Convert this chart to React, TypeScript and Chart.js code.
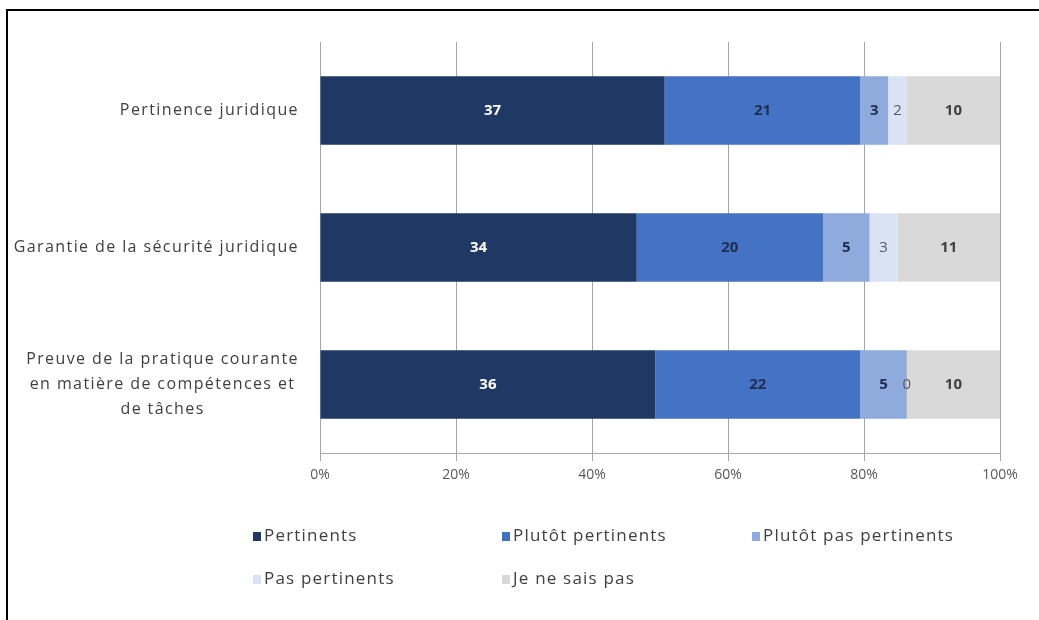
import React, { useEffect, useRef } from "react";
import { Chart, registerables } from "chart.js";

Chart.register(...registerables);

// ---- Data ----
const categories: (string | string[])[] = [
  "Pertinence juridique",
  "Garantie de la sécurité juridique",
  ["Preuve de la pratique courante", "en matière de compétences et", "de tâches"],
];
const seriesNames = [
  "Pertinents",
  "Plutôt pertinents",
  "Plutôt pas pertinents",
  "Pas pertinents",
  "Je ne sais pas",
];
const pertinents = [37, 34, 36];
const plutotPertinents = [21, 20, 22];
const plutotPasPertinents = [3, 5, 5];
const pasPertinents = [2, 3, 0];
const jeNeSaisPas = [10, 11, 10];
const xTickValues = [0, 20, 40, 60, 80, 100];

const seriesValues = [pertinents, plutotPertinents, plutotPasPertinents, pasPertinents, jeNeSaisPas];

// ---- Styles ----
const seriesColors = ["#203864", "#4472C4", "#8FAADC", "#DAE3F3", "#D9D9D9"];
const labelColors = ["#FFFFFF", "#1F2D50", "#1F2D50", "#595959", "#404040"];
const FONT = "'Open Sans', 'DejaVu Sans', sans-serif";
const W = 1039;
const H = 620;

export default function App() {
  const ref = useRef<HTMLCanvasElement>(null);

  useEffect(() => {
    document.body.style.margin = "0";
    const canvas = ref.current;
    if (!canvas) return;

    const totals = categories.map((_, i) => seriesValues.reduce((s, arr) => s + arr[i], 0));

    const datasets = seriesValues.map((vals, k) => ({
      label: seriesNames[k],
      data: vals.map((v, i) => (v / totals[i]) * 100),
      backgroundColor: seriesColors[k],
      borderWidth: 0,
      barPercentage: 0.5,
      categoryPercentage: 1.0,
    }));

    const framePlugin = {
      id: "frame",
      beforeDraw(chart: any) {
        const ctx = chart.ctx;
        ctx.save();
        ctx.fillStyle = "#ffffff";
        ctx.fillRect(0, 0, W, H);
        ctx.fillStyle = "#000000";
        ctx.fillRect(6, 9, W - 6, 2);
        ctx.fillRect(6, 9, 2, H - 9);
        ctx.restore();
      },
    };

    const catLabelPlugin = {
      id: "catLabels",
      afterDraw(chart: any) {
        const ctx = chart.ctx;
        const yScale = chart.scales.y;
        ctx.save();
        ctx.font = `16px ${FONT}`;
        (ctx as any).letterSpacing = "1.4px";
        ctx.fillStyle = "#404040";
        ctx.textAlign = "center";
        ctx.textBaseline = "middle";
        const right = chart.chartArea.left - 21;
        const lh = 25;
        categories.forEach((lab, i) => {
          const lines = Array.isArray(lab) ? lab : [lab];
          const widths = lines.map((l) => ctx.measureText(l).width);
          const bw = Math.max(...widths);
          const cx = right - bw / 2;
          const yc = yScale.getPixelForValue(i);
          lines.forEach((l, j) => {
            ctx.fillText(l, cx, yc + (j - (lines.length - 1) / 2) * lh);
          });
        });
        ctx.restore();
      },
    };

    const valueLabelPlugin = {
      id: "valueLabels",
      afterDatasetsDraw(chart: any) {
        const ctx = chart.ctx;
        ctx.save();
        ctx.textAlign = "center";
        ctx.textBaseline = "middle";
        seriesValues.forEach((vals, k) => {
          const meta = chart.getDatasetMeta(k);
          ctx.fillStyle = labelColors[k];
          ctx.font = k === 3 ? `15px ${FONT}` : `bold 15px ${FONT}`;
          meta.data.forEach((el: any, i: number) => {
            const p = el.getProps(["x", "y", "base"], true);
            ctx.fillText(String(vals[i]), (p.x + p.base) / 2, p.y);
          });
        });
        ctx.restore();
      },
    };

    const legendPlugin = {
      id: "customLegend",
      afterDraw(chart: any) {
        const ctx = chart.ctx;
        const cols = [253, 502, 752];
        const rows = [536, 579];
        ctx.save();
        ctx.font = `17px ${FONT}`;
        (ctx as any).letterSpacing = "1.2px";
        ctx.textAlign = "left";
        ctx.textBaseline = "middle";
        seriesNames.forEach((name, k) => {
          const x = cols[k % 3];
          const y = rows[Math.floor(k / 3)];
          ctx.fillStyle = seriesColors[k];
          ctx.fillRect(x, y - 4, 8, 9);
          ctx.fillStyle = "#404040";
          ctx.fillText(name, x + 11, y);
        });
        ctx.restore();
      },
    };

    const chart = new Chart(canvas, {
      type: "bar",
      data: { labels: categories as any, datasets },
      options: {
        indexAxis: "y",
        responsive: false,
        animation: false,
        devicePixelRatio: 1,
        layout: { padding: { top: 42, right: 39, bottom: 127, left: 0 } },
        plugins: {
          legend: { display: false },
          tooltip: { enabled: false },
        },
        scales: {
          x: {
            stacked: true,
            min: 0,
            max: 100,
            afterBuildTicks: (s: any) => {
              s.ticks = xTickValues.map((v) => ({ value: v }));
            },
            afterFit: (s: any) => {
              s.height = 40;
            },
            ticks: {
              callback: (v: any) => `${v}%`,
              font: { family: FONT, size: 14 },
              color: "#595959",
              padding: 6,
            },
            grid: {
              color: "#A6A6A6",
              lineWidth: 1,
              drawTicks: true,
              tickLength: 8,
              tickColor: "#A6A6A6",
            },
            border: { display: true, color: "#A6A6A6", width: 1 },
          },
          y: {
            stacked: true,
            afterFit: (s: any) => {
              s.width = 320;
            },
            ticks: { display: false },
            grid: { display: false, drawTicks: false },
            border: { display: true, color: "#A6A6A6", width: 1 },
          },
        },
      },
      plugins: [framePlugin, catLabelPlugin, valueLabelPlugin, legendPlugin],
    } as any);

    return () => chart.destroy();
  }, []);

  return (
    <div style={{ width: W, height: H, position: "relative", background: "#fff" }}>
      <canvas ref={ref} width={W} height={H} style={{ display: "block" }} />
    </div>
  );
}
